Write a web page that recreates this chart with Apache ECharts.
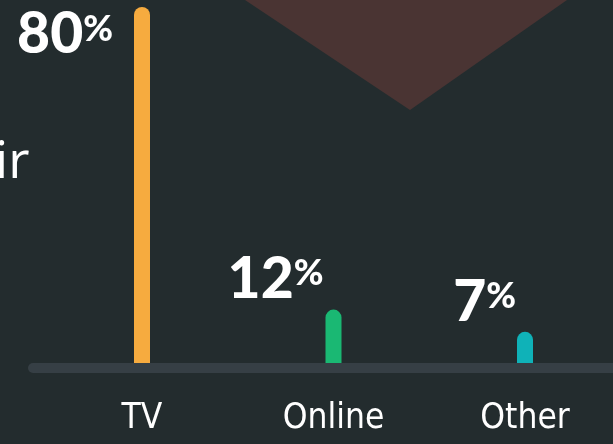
<!DOCTYPE html>
<html>
<head>
<meta charset="utf-8">
<script src="https://cdn.jsdelivr.net/npm/echarts@6/dist/echarts.min.js"></script>
<style>
  html, body { margin: 0; padding: 0; background: #232c2e; }
  #chart { width: 613px; height: 444px; }
</style>
</head>
<body>
<div id="chart"></div>
<script>
var categories = ["TV", "Online", "Other"];
var shares = [80, 12, 7];
var barColors = ["#f6ab3f", "#1ab873", "#0fb2b8"];

var chart = echarts.init(document.getElementById("chart"));

// label placement per bar: TV sits beside its bar, the rest sit above-left
var labelPos = [
  { position: [-21, 4], verticalAlign: "top" },
  { position: [-2, -6], verticalAlign: "bottom" },
  { position: [-1, -5], verticalAlign: "bottom" }
];

var seriesData = [];
for (var i = 0; i < shares.length; i++) {
  seriesData.push({
    value: shares[i],
    itemStyle: { color: barColors[i] },
    label: {
      position: labelPos[i].position,
      verticalAlign: labelPos[i].verticalAlign
    }
  });
}

var option = {
  backgroundColor: "#232c2e",
  animation: false,
  grid: {
    left: 142,
    right: 88,
    top: 7,
    bottom: 81
  },
  graphic: [
    {
      type: "polygon",
      silent: true,
      z: -10,
      shape: { points: [[245, 0], [567, 0], [410, 110]] },
      style: { fill: "#4a3433" }
    },
    {
      type: "text",
      silent: true,
      left: -5,
      top: 137,
      style: {
        text: "ir",
        fill: "#ffffff",
        font: "52px 'Open Sans'"
      }
    },
    {
      type: "line",
      silent: true,
      z: 10,
      shape: { x1: 33, y1: 368, x2: 640, y2: 368 },
      style: { stroke: "#363f45", lineWidth: 10, lineCap: "round" }
    }
  ],
  xAxis: {
    type: "category",
    data: categories,
    boundaryGap: false,
    axisLine: { show: false },
    axisTick: { show: false },
    axisLabel: {
      color: "#ffffff",
      fontFamily: "'DejaVu Sans Condensed', 'DejaVu Sans', sans-serif",
      fontSize: 35,
      margin: 38
    }
  },
  yAxis: {
    type: "value",
    min: 0,
    max: 80,
    show: false,
    splitLine: { show: false }
  },
  series: [
    {
      type: "bar",
      data: seriesData,
      barWidth: 16,
      itemStyle: { borderRadius: [8, 8, 0, 0] },
      label: {
        show: true,
        align: "right",
        formatter: function (p) {
          return "{n|" + p.value + "}{p|%}";
        },
        rich: {
          n: {
            color: "#ffffff",
            fontFamily: "Lato",
            fontWeight: 900,
            fontSize: 57,
            lineHeight: 48
          },
          p: {
            color: "#ffffff",
            fontFamily: "Lato",
            fontWeight: 900,
            fontSize: 36,
            lineHeight: 34,
            verticalAlign: "top"
          }
        }
      }
    }
  ]
};

chart.setOption(option);
window.addEventListener("resize", function () {
  chart.resize();
});
</script>
</body>
</html>
